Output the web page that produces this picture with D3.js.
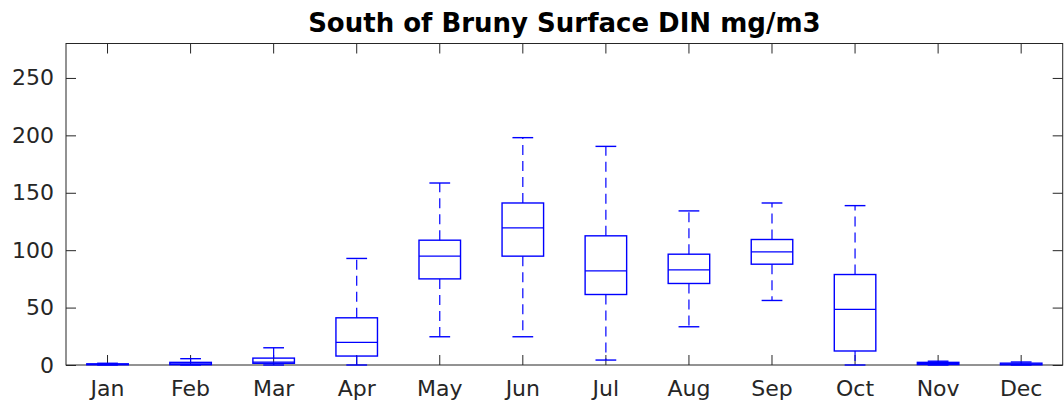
<!DOCTYPE html>
<html>
<head>
<meta charset="utf-8">
<script src="https://cdn.jsdelivr.net/npm/d3@7"></script>
<style>
  body { margin: 0; background: #fff; }
  text { font-family: "DejaVu Sans", sans-serif; fill: #262626; }
</style>
</head>
<body>
<div id="chart"></div>
<script>
// box plot stats per month (mg/m3)
var months = ["Jan", "Feb", "Mar", "Apr", "May", "Jun", "Jul", "Aug", "Sep", "Oct", "Nov", "Dec"];
var whiskLo = [0, 0, 0, 0, 24.6, 24.6, 4.3, 33.3, 56.2, 0, 0, 0];
var q1      = [0.2, 0.3, 1.5, 7.8, 75, 94.8, 61.4, 71, 87.8, 12.2, 0.4, 0.2];
var med     = [0.5, 1, 2.5, 19.7, 94.8, 119.4, 82, 82.9, 98.5, 48.4, 1.2, 0.8];
var q3      = [1, 2.3, 6, 41.1, 108.7, 141.1, 112.5, 96.5, 109.3, 78.8, 2.3, 1.6];
var whiskHi = [1.5, 5.5, 15, 92.8, 158.5, 198, 190.4, 134.2, 141.1, 138.8, 3.3, 2.6];
var yTicks = [0, 50, 100, 150, 200, 250];

var width = 1064,
    height = 408,
    plotL = 66, plotR = 1062.7,
    plotT = 43.5, plotB = 365,
    blue = "#0000ff";

var svg = d3.select("#chart").append("svg")
  .attr("width", width)
  .attr("height", height);

var x = d3.scaleBand().domain(months).range([plotL, plotR]).paddingInner(0).paddingOuter(0);
var y = d3.scaleLinear().domain([0, 280]).range([plotB, plotT]);
var bw = x.bandwidth();

var data = months.map(function (m, i) {
  return { m: m, lo: whiskLo[i], q1: q1[i], med: med[i], q3: q3[i], hi: whiskHi[i] };
});

// axes (ticks pointing inwards, box on)
var axisG = svg.append("g").attr("class", "axes");

axisG.append("g")
  .attr("transform", "translate(" + plotL + ",0)")
  .call(d3.axisLeft(y).tickValues(yTicks).tickSizeInner(-10).tickSizeOuter(0).tickPadding(12));
axisG.append("g")
  .attr("transform", "translate(" + plotR + ",0)")
  .call(d3.axisRight(y).tickValues(yTicks).tickSizeInner(-10).tickSizeOuter(0).tickFormat(""));
axisG.append("g")
  .attr("transform", "translate(0," + plotB + ")")
  .call(d3.axisBottom(x).tickSizeInner(-10).tickSizeOuter(0).tickPadding(15));
axisG.append("g")
  .attr("transform", "translate(0," + plotT + ")")
  .call(d3.axisTop(x).tickSizeInner(-10).tickSizeOuter(0).tickFormat(""));

axisG.selectAll(".domain").remove();
axisG.selectAll(".tick line").attr("stroke", "#262626");
axisG.selectAll(".tick text")
  .style("font-size", "22px")
  .style("font-family", "'DejaVu Sans', sans-serif")
  .attr("fill", "#262626");

axisG.append("rect")
  .attr("x", plotL).attr("y", plotT)
  .attr("width", plotR - plotL).attr("height", plotB - plotT)
  .attr("fill", "none").attr("stroke", "#262626").attr("stroke-width", 1);

// boxes
var box = svg.append("g").selectAll("g")
  .data(data)
  .enter()
  .append("g")
    .attr("transform", function (d) { return "translate(" + (x(d.m) + bw / 2) + ",0)"; });

// whiskers, dashed
box.append("line")
  .attr("y1", function (d) { return y(d.q3); })
  .attr("y2", function (d) { return y(d.hi); })
  .attr("stroke", blue).attr("stroke-width", 1.2).attr("stroke-dasharray", "10,6");
box.append("line")
  .attr("y1", function (d) { return y(d.q1); })
  .attr("y2", function (d) { return y(d.lo); })
  .attr("stroke", blue).attr("stroke-width", 1.2).attr("stroke-dasharray", "10,6");

// caps
box.append("line")
  .attr("x1", -bw / 8).attr("x2", bw / 8)
  .attr("y1", function (d) { return y(d.hi); })
  .attr("y2", function (d) { return y(d.hi); })
  .attr("stroke", blue).attr("stroke-width", 1.4);
box.append("line")
  .attr("x1", -bw / 8).attr("x2", bw / 8)
  .attr("y1", function (d) { return y(d.lo); })
  .attr("y2", function (d) { return y(d.lo); })
  .attr("stroke", blue).attr("stroke-width", 1.4);

box.append("rect")
  .attr("x", -bw / 4)
  .attr("width", bw / 2)
  .attr("y", function (d) { return y(d.q3); })
  .attr("height", function (d) { return y(d.q1) - y(d.q3); })
  .attr("fill", "none").attr("stroke", blue).attr("stroke-width", 1.4);

box.append("line")
  .attr("x1", -bw / 4).attr("x2", bw / 4)
  .attr("y1", function (d) { return y(d.med); })
  .attr("y2", function (d) { return y(d.med); })
  .attr("stroke", blue).attr("stroke-width", 1.2);

// title
svg.append("text")
  .attr("x", (plotL + plotR) / 2)
  .attr("y", 32)
  .attr("text-anchor", "middle")
  .style("font-size", "26px")
  .style("font-weight", "bold")
  .style("fill", "#000")
  .text("South of Bruny Surface DIN mg/m3");
</script>
</body>
</html>
